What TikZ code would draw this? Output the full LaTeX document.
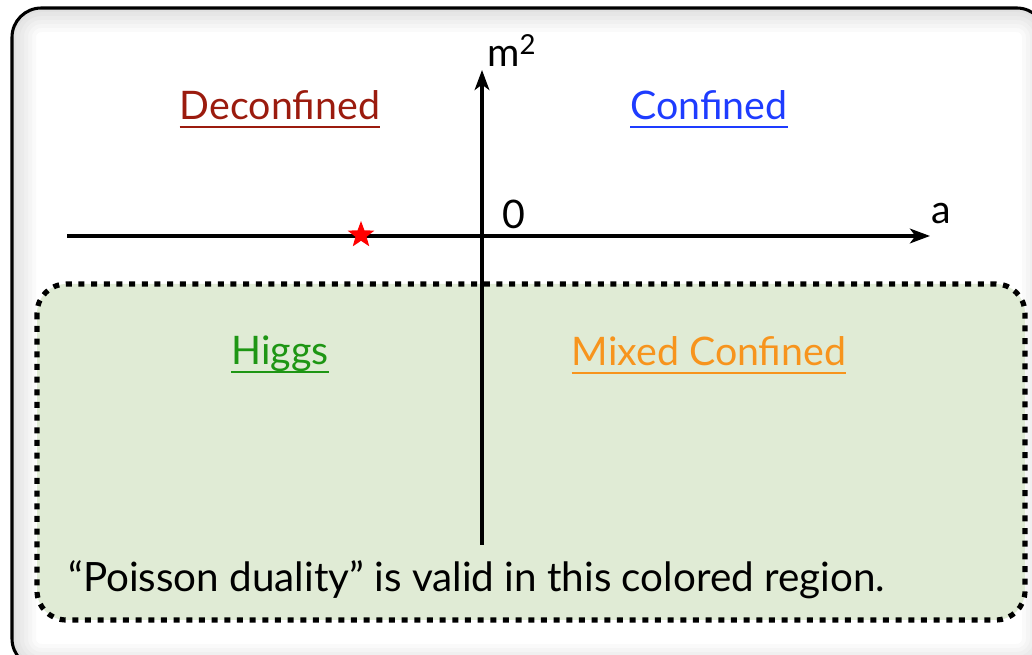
\documentclass[tikz,border=0pt]{standalone}
\usepackage{fontspec}
\setmainfont{Lato}
\usepackage{tikz}
\usetikzlibrary{arrows.meta,positioning,calc,shapes.geometric}
\definecolor{deconf}{RGB}{155,27,14}
\definecolor{conf}{RGB}{30,60,255}
\definecolor{higgs}{RGB}{30,150,20}
\definecolor{mixed}{RGB}{247,148,29}
\definecolor{region}{RGB}{224,235,213}
\tikzset{
  phase/.style={font=\fontsize{29.5}{34}\selectfont,inner sep=0pt,anchor=base},
  axlbl/.style={font=\fontsize{29.5}{34}\selectfont,inner sep=0pt,anchor=base west},
  axis/.style={-{Stealth[length=15pt,width=11pt,inset=4pt]},line width=2.5pt},
  uline/.style={line width=1.7pt},
  dotbox/.style={line width=3.9pt,dash pattern=on 4.5pt off 5pt,rounded corners=22pt},
}

\begin{document}
\begin{tikzpicture}[x=0.75pt,y=-0.75pt]
  \useasboundingbox (0,0) rectangle (1032,655);
  % frame with soft inner shadow
  \begin{scope}
    \clip[rounded corners=22pt] (12,8) rectangle (1046,668);
    \foreach \w in {36,30,24,18,12,6}
      \draw[black,opacity=0.018,line width=\w pt,rounded corners=22pt] (12,8) rectangle (1046,668);
  \end{scope}
  \draw[line width=2.3pt,rounded corners=22pt] (12,8) rectangle (1046,668);
  % region where the duality holds
  \fill[region,rounded corners=22pt] (37,284) rectangle (1025,620);
  \draw[dotbox] (37,284) rectangle (1025,620);
  % axes
  \coordinate (o) at (482,236);
  \coordinate (xl) at (67,236);
  \coordinate (xr) at (930,236);
  \coordinate (yb) at (482,545);
  \coordinate (yt) at (482,70);
  \draw[axis] (xl) -- (xr);
  \draw[axis] (yb) -- (yt);
  \node[axlbl] (mlbl) at (487,67) {m\textsuperscript{2}};
  \node[axlbl] (albl) at (931,224) {a};
  \node[axlbl] (zero) at (502,229) {0};
  \node[star,star points=5,star point ratio=2.4,fill=red,draw=none,minimum size=21pt,inner sep=0pt] (pt) at (361,235) {};
  % phases
  \foreach \n/\x/\y/\c/\t in {dec/280/120/deconf/Deconfined, con/709/120/conf/Confined,
                             hig/280/365/higgs/Higgs, mix/709/366/mixed/Mixed Confined}{
    \node[phase,text=\c] (\n) at (\x,\y) {\t};
    \draw[uline,\c] ([yshift=-5pt]\n.base west) -- ([yshift=-5pt]\n.base east);}
  \node[font=\fontsize{30.3}{35}\selectfont,inner sep=0pt,anchor=base west] (note) at (68,591)
    {``Poisson duality'' is valid in this colored region.};
\end{tikzpicture}
\end{document}
